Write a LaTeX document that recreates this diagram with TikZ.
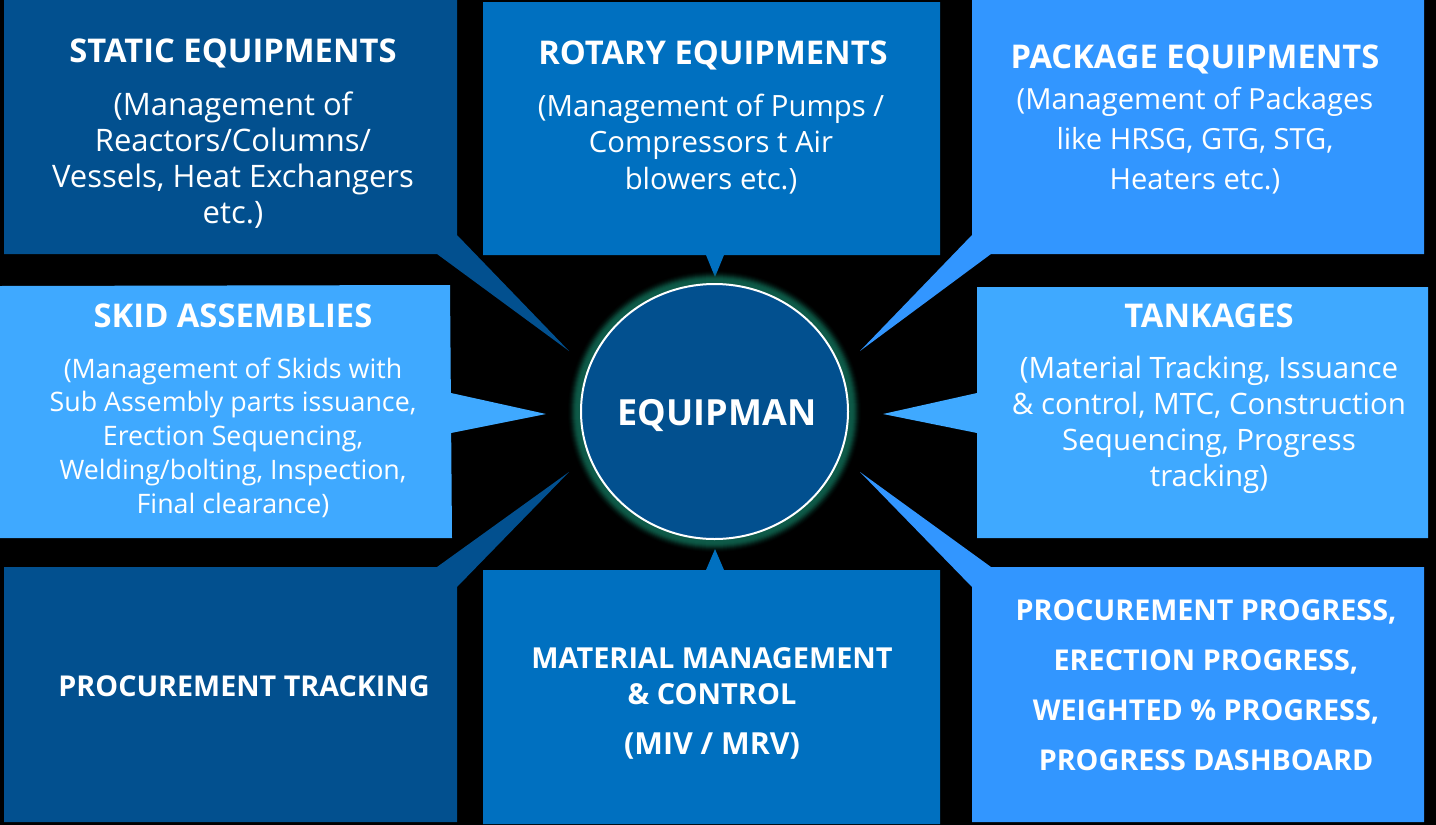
\documentclass[tikz,border=0pt]{standalone}
\usepackage{fontspec}
\setmainfont{Open Sans}
\usetikzlibrary{shapes.geometric}
\definecolor{cdark}{HTML}{02508F}
\definecolor{cmid}{HTML}{0070C0}
\definecolor{cbright}{HTML}{3296FF}
\definecolor{clight}{HTML}{3FA9FF}
\definecolor{cglow}{HTML}{0E5A48}
\tikzset{
  head/.style={text=white,font=\fontsize{32.7}{36}\selectfont\bfseries,align=center,inner sep=0pt},
  smallhead/.style={text=white,font=\fontsize{28.7}{36}\selectfont\bfseries,align=center,inner sep=0pt},
  body/.style={text=white,font=\fontsize{29.3}{36.2}\selectfont,align=center,inner sep=0pt},
  bodytight/.style={text=white,font=\fontsize{26.8}{33.7}\selectfont,align=center,inner sep=0pt},
}
\begin{document}
\begin{tikzpicture}[x=1pt,y=-1pt]
\useasboundingbox (0,0) rectangle (1436,825);
\fill[black] (0,0) rectangle (1436,825);
% callout boxes
\fill[cdark] (4,0) -- (457,0) -- (457,235) -- (569,351) -- (437,254) -- (4,254) -- cycle;
\fill[cmid] (483,2) -- (940,2) -- (940,255) -- (724,255) -- (715,277) -- (706,255) -- (483,255) -- cycle;
\fill[cbright] (972,0) -- (1424,0) -- (1424,254) -- (991,254) -- (860,351) -- (972,235) -- cycle;
\fill[clight] (0,286) -- (450,285) -- (452,538) -- (0,538) -- cycle;
\fill[clight] (451,393) -- (546,414) -- (451,433) -- cycle;
\fill[clight] (977,287) -- (1428,287) -- (1428,538) -- (977,538) -- (977,433) -- (883,414) -- (977,393) -- cycle;
\fill[cdark] (4,567) -- (437,567) -- (569,472) -- (457,587) -- (457,822) -- (4,822) -- cycle;
\fill[cmid] (483,570) -- (706,570) -- (715,549) -- (724,570) -- (940,570) -- (940,824) -- (483,824) -- cycle;
\fill[cbright] (972,587) -- (860,472) -- (991,567) -- (1424,567) -- (1424,822) -- (972,822) -- cycle;
% glow
\foreach \d/\o in {13/.05,12/.08,11/.12,10/.17,9/.24,8/.32,7/.42,6/.55,5/.75,4/1}{
  \fill[cglow,opacity=\o] (714.5,411.5) ellipse ({133.5+\d} and {127.5+\d});
}
\node[ellipse,draw=white,line width=2pt,fill=cdark,minimum width=267pt,minimum height=255pt,inner sep=0pt] (hub) at (714.5,411.5) {};
\node[text=white,font=\fontsize{36}{40}\selectfont\bfseries,inner sep=0pt] (hubtext) at (717,416) {EQUIPMAN};
% texts
\node[head] (t1) at (233,53) {STATIC EQUIPMENTS};
\node[body,font=\fontsize{31}{36.2}\selectfont] (b1) at (233,160) {(Management of\\Reactors/Columns/\\Vessels, Heat Exchangers\\etc.)};
\node[head] (t2) at (713,55) {ROTARY EQUIPMENTS};
\node[body] (b2) at (711,144) {(Management of Pumps /\\Compressors t Air\\blowers etc.)};
\node[head] (t3) at (1195,59) {PACKAGE EQUIPMENTS};
\node[body,font=\fontsize{29.1}{40}\selectfont] (b3) at (1195,141) {(Management of Packages\\like HRSG, GTG, STG,\\Heaters etc.)};
\node[head] (t4) at (233,316) {SKID ASSEMBLIES};
\node[bodytight] (b4) at (233,437.5) {(Management of Skids with\\Sub Assembly parts issuance,\\Erection Sequencing,\\Welding/bolting, Inspection,\\Final clearance)};
\node[head] (t5) at (1209,316) {TANKAGES};
\node[body,font=\fontsize{29.5}{36}\selectfont] (b5) at (1209,424.5) {(Material Tracking, Issuance\\\& control, MTC, Construction\\Sequencing, Progress\\tracking)};
\node[smallhead] (t6) at (244,686) {PROCUREMENT TRACKING};
\node[smallhead,font=\fontsize{28.9}{36}\selectfont\bfseries] (t7) at (712,676) {MATERIAL MANAGEMENT\\\& CONTROL};
\node[smallhead,font=\fontsize{30.4}{36}\selectfont\bfseries] (t7b) at (712,746.5) {(MIV / MRV)};
\node[smallhead,font=\fontsize{28.7}{50}\selectfont\bfseries] (t8) at (1206,685) {PROCUREMENT PROGRESS,\\ERECTION PROGRESS,\\WEIGHTED \% PROGRESS,\\PROGRESS DASHBOARD};
\end{tikzpicture}
\end{document}
